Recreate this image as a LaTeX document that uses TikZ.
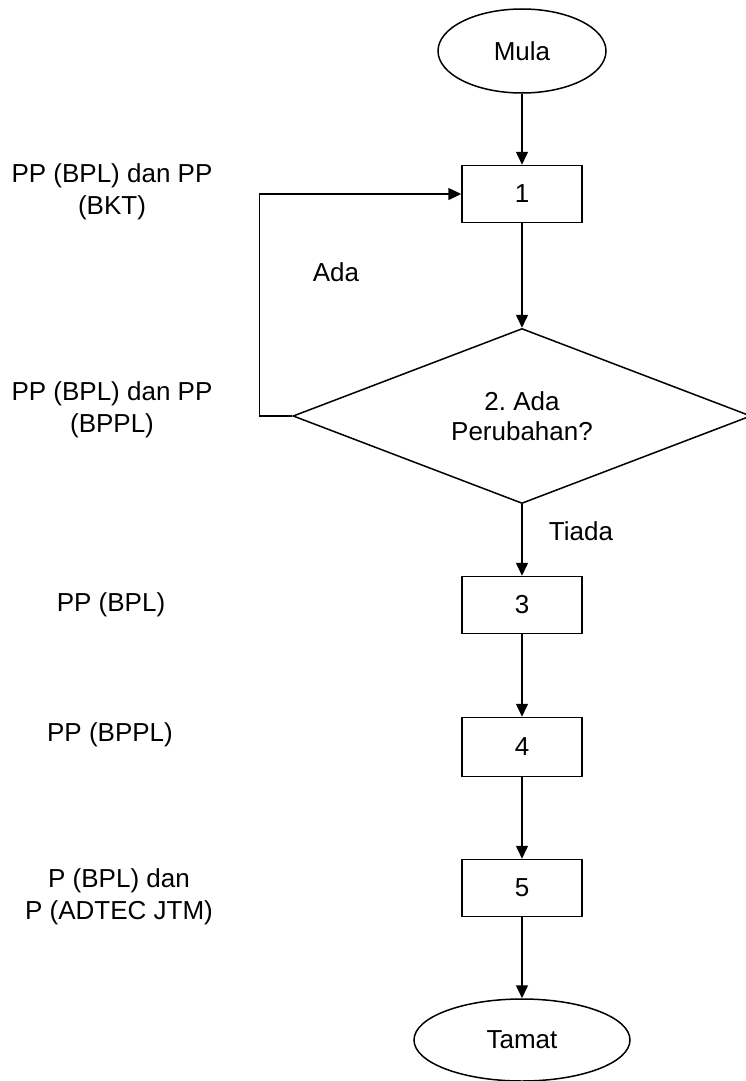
\documentclass[tikz,border=0pt]{standalone}
\usepackage{fontspec}
\setmainfont{Liberation Sans}
\usetikzlibrary{shapes.geometric,arrows.meta}

\begin{document}
\begin{tikzpicture}[x=1pt,y=-1pt,
  font=\fontsize{26}{32}\selectfont,
  term/.style={ellipse,draw,line width=1.5pt,inner sep=0pt},
  stepbox/.style={rectangle,draw,line width=1.5pt,minimum width=120pt,minimum height=57pt},
  ask/.style={diamond,draw,line width=1.5pt,aspect=2.6,inner sep=0pt,minimum width=458pt,minimum height=175pt,align=center,
    font=\fontsize{26}{30}\selectfont},
  who/.style={align=center},
  flow/.style={line width=1.5pt,-{Triangle[length=13pt,width=12pt]}}]
\useasboundingbox (0,0) rectangle (745,1081);
\node[term,minimum width=168pt,minimum height=84pt](mula) at (522,51){Mula};
\node[stepbox](s1) at (522,194){1};
\node[ask](s2) at (522,416){2.\ Ada\\Perubahan?};
\node[stepbox](s3) at (522,605){3};
\node[stepbox,minimum height=59pt](s4) at (522,747){4};
\node[stepbox](s5) at (522,888){5};
\node[term,minimum width=216pt,minimum height=82pt](tamat) at (522,1040){Tamat};

\node[who](w1) at (112,192){PP (BPL) dan PP\\(BKT)};
\node[who](w2) at (112,410){PP (BPL) dan PP\\(BPPL)};
\node[who](w3) at (111,605){PP (BPL)};
\node[who](w4) at (110,735){PP (BPPL)};
\node[who](w5) at (119,897){P (BPL) dan\\P (ADTEC JTM)};

\node(ada) at (336,272){Ada};
\node(tiada) at (581,531){Tiada};

\draw[flow] (mula) -- (s1);
\draw[flow] (s1) -- (s2);
\draw[flow] (s2.west) -- ++(-33,0) |- (s1.west);
\draw[flow] (s2) -- (s3);
\draw[flow] (s3) -- (s4);
\draw[flow] (s4) -- (s5);
\draw[flow] (s5) -- (tamat);
\end{tikzpicture}
\end{document}
